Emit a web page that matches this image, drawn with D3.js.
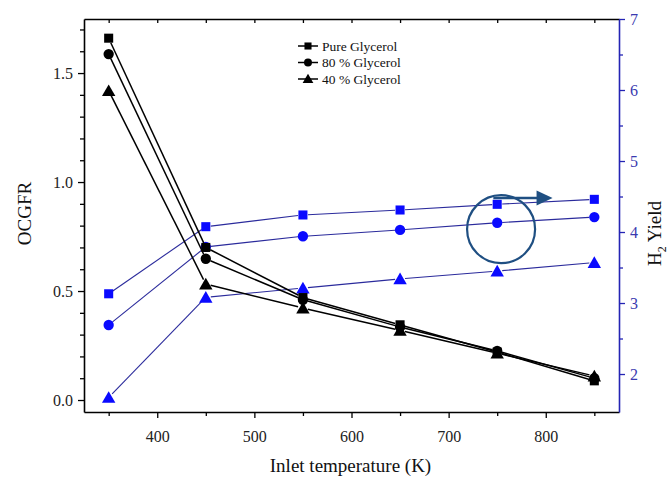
<!DOCTYPE html>
<html>
<head>
<meta charset="utf-8">
<script src="https://cdn.jsdelivr.net/npm/d3@7"></script>
<style>
  html, body { margin: 0; padding: 0; background: #fff; }
  svg { display: block; font-family: "Liberation Serif", "Times New Roman", serif; }
</style>
</head>
<body>
<svg id="chart" width="670" height="477"></svg>
<script>
// Inlet temperatures (K)
const temperatures = [350, 450, 550, 650, 750, 850];

// OCGFR (left axis)
const ocgfrPure = [1.66, 0.70, 0.47, 0.345, 0.22, 0.088];
const ocgfr80   = [1.587, 0.648, 0.46, 0.335, 0.225, 0.10];
const ocgfr40   = [1.419, 0.532, 0.422, 0.32, 0.215, 0.11];

// H2 yield (right axis)
const h2Pure = [3.13, 4.075, 4.24, 4.31, 4.39, 4.46];
const h280   = [2.69, 3.79, 3.94, 4.03, 4.13, 4.21];
const h240   = [1.67, 3.08, 3.21, 3.34, 3.45, 3.57];

const seriesNames = ["Pure Glycerol", "80 % Glycerol", "40 % Glycerol"];
const markerShapes = ["square", "circle", "triangle"];

const leftTicks = [0.0, 0.5, 1.0, 1.5];
const rightTicks = [2, 3, 4, 5, 6, 7];
const bottomTicks = [400, 500, 600, 700, 800];

const svg = d3.select("#chart");
const plot = { left: 84, right: 619, top: 19, bottom: 412 };

const x = d3.scaleLinear().domain([324.6, 875.4]).range([plot.left, plot.right]);
const yL = d3.scaleLinear().domain([-0.055, 1.748]).range([plot.bottom, plot.top]);
const yR = d3.scaleLinear().domain([1.465, 7]).range([plot.bottom, plot.top]);

const BLACK = "#000";
const BLUE_MARK = "#0a0aff";
const BLUE_LINE = "#2b2b9c";
const BLUE_AXIS = "#2424b4";
const ANNOT = "#1f4f82";

// ---- axes ----
const fmt1 = d3.format(".1f");
const minorLeft = d3.range(0, 1.75, 0.1).filter(v => Math.abs(v * 2 - Math.round(v * 2)) > 1e-6);
const minorRight = d3.range(2.5, 7, 1);
const minorBottom = d3.range(350, 851, 100);

function styleAxis(g, color, fontColor) {
  g.selectAll("path.domain").attr("stroke", color).attr("stroke-width", 1.6);
  g.selectAll(".tick line").attr("stroke", color).attr("stroke-width", 1.3);
  g.selectAll("text").attr("fill", fontColor).attr("font-size", 16)
    .attr("font-family", "'Liberation Serif', 'Times New Roman', serif");
}

// bottom
const gB = svg.append("g").attr("transform", `translate(0,${plot.bottom})`)
  .call(d3.axisBottom(x).tickValues(bottomTicks).tickSize(6).tickPadding(13).tickSizeOuter(0).tickFormat(d3.format("d")));
styleAxis(gB, BLACK, "#222");
svg.append("g").attr("transform", `translate(0,${plot.bottom})`)
  .call(d3.axisBottom(x).tickValues(minorBottom).tickSize(4).tickFormat("").tickSizeOuter(0))
  .call(g => { g.select("path.domain").remove(); g.selectAll("line").attr("stroke", BLACK).attr("stroke-width", 1.3); });

// top (inward ticks, no labels)
const gT = svg.append("g").attr("transform", `translate(0,${plot.top})`)
  .call(d3.axisBottom(x).tickValues(bottomTicks.concat(minorBottom)).tickSize(4).tickFormat("").tickSizeOuter(0));
styleAxis(gT, BLACK, BLACK);

// left
const gL = svg.append("g").attr("transform", `translate(${plot.left},0)`)
  .call(d3.axisLeft(yL).tickValues(leftTicks).tickSize(6).tickPadding(5).tickSizeOuter(0).tickFormat(fmt1));
styleAxis(gL, BLACK, "#222");
svg.append("g").attr("transform", `translate(${plot.left},0)`)
  .call(d3.axisLeft(yL).tickValues(minorLeft).tickSize(4).tickFormat("").tickSizeOuter(0))
  .call(g => { g.select("path.domain").remove(); g.selectAll("line").attr("stroke", BLACK).attr("stroke-width", 1.3); });

// right
const gR = svg.append("g").attr("transform", `translate(${plot.right},0)`)
  .call(d3.axisRight(yR).tickValues(rightTicks).tickSize(6).tickPadding(5).tickSizeOuter(0).tickFormat(d3.format("d")));
styleAxis(gR, BLUE_AXIS, "#3a3ab0");
svg.append("g").attr("transform", `translate(${plot.right},0)`)
  .call(d3.axisRight(yR).tickValues(minorRight).tickSize(4).tickFormat("").tickSizeOuter(0))
  .call(g => { g.select("path.domain").remove(); g.selectAll("line").attr("stroke", BLUE_AXIS).attr("stroke-width", 1.3); });

// axis titles
svg.append("text").attr("x", (plot.left + plot.right) / 2 - 1).attr("y", 472)
  .attr("text-anchor", "middle").attr("font-size", 19).attr("fill", "#111")
  .text("Inlet temperature (K)");
svg.append("text").attr("transform", `translate(31,${(plot.top + plot.bottom) / 2 - 2}) rotate(-90)`)
  .attr("text-anchor", "middle").attr("font-size", 19).attr("fill", "#111")
  .text("OCGFR");
const h2Title = svg.append("text").attr("transform", `translate(661,${(plot.top + plot.bottom) / 2 + 18}) rotate(-90)`)
  .attr("text-anchor", "middle").attr("font-size", 19).attr("fill", "#111");
h2Title.append("tspan").text("H");
h2Title.append("tspan").attr("font-size", 12).attr("dy", 5).text("2");
h2Title.append("tspan").attr("dy", -5).text(" Yield");

// ---- series ----
const symbolSize = { square: 82, circle: 84, triangle: 78 };
function symbolType(shape) {
  return shape === "square" ? d3.symbolSquare : shape === "circle" ? d3.symbolCircle : d3.symbolTriangle;
}

// line segments stop short of each marker
function gappedSegments(pts, gap) {
  const segs = [];
  for (let i = 0; i < pts.length - 1; i++) {
    const [x0, y0] = pts[i], [x1, y1] = pts[i + 1];
    const len = Math.hypot(x1 - x0, y1 - y0);
    const ux = (x1 - x0) / len, uy = (y1 - y0) / len;
    segs.push([[x0 + ux * gap, y0 + uy * gap], [x1 - ux * gap, y1 - uy * gap]]);
  }
  return segs;
}

function drawSeries(values, yScale, shape, lineColor, markColor, lineWidth) {
  const pts = temperatures.map((t, i) => [x(t), yScale(values[i])]);
  const g = svg.append("g");
  g.selectAll("line").data(gappedSegments(pts, 5)).join("line")
    .attr("x1", d => d[0][0]).attr("y1", d => d[0][1])
    .attr("x2", d => d[1][0]).attr("y2", d => d[1][1])
    .attr("stroke", lineColor).attr("stroke-width", lineWidth);
  const dy = shape === "triangle" ? 1.5 : 0;
  g.selectAll("path").data(pts).join("path")
    .attr("d", d3.symbol().type(symbolType(shape)).size(symbolSize[shape])())
    .attr("transform", d => `translate(${d[0]},${d[1] + dy})`)
    .attr("fill", markColor);
}

const h2Series = [h2Pure, h280, h240];
const ocgfrSeries = [ocgfrPure, ocgfr80, ocgfr40];

h2Series.forEach((s, i) => drawSeries(s, yR, markerShapes[i], BLUE_LINE, BLUE_MARK, 1.1));
ocgfrSeries.forEach((s, i) => drawSeries(s, yL, markerShapes[i], BLACK, BLACK, 1.5));

// ---- legend ----
const legend = svg.append("g").attr("transform", "translate(298,46)");
seriesNames.forEach((name, i) => {
  const row = legend.append("g").attr("transform", `translate(0,${i * 16.5})`);
  row.append("line").attr("x1", 0).attr("x2", 20).attr("y1", 0).attr("y2", 0)
    .attr("stroke", BLACK).attr("stroke-width", 1.5);
  row.append("path").attr("d", d3.symbol().type(symbolType(markerShapes[i])).size(50)())
    .attr("transform", `translate(10,${markerShapes[i] === "triangle" ? 1 : 0})`).attr("fill", BLACK);
  row.append("text").attr("x", 24).attr("y", 4.5).attr("font-size", 13.5).attr("fill", "#111").text(name);
});

// ---- annotation: circle and arrow on the H2 yield curves ----
const annot = svg.append("g");
annot.append("circle").attr("cx", x(754)).attr("cy", yR(4.04)).attr("r", 34)
  .attr("fill", "none").attr("stroke", ANNOT).attr("stroke-width", 2.2);
const ax0 = x(746), ax1 = x(807), ay = yR(4.48);
annot.append("line").attr("x1", ax0).attr("x2", ax1 - 14).attr("y1", ay).attr("y2", ay)
  .attr("stroke", ANNOT).attr("stroke-width", 2.6);
annot.append("path")
  .attr("d", `M${ax1},${ay} L${ax1 - 16},${ay - 7.5} L${ax1 - 16},${ay + 7.5} Z`)
  .attr("fill", ANNOT);
</script>
</body>
</html>
